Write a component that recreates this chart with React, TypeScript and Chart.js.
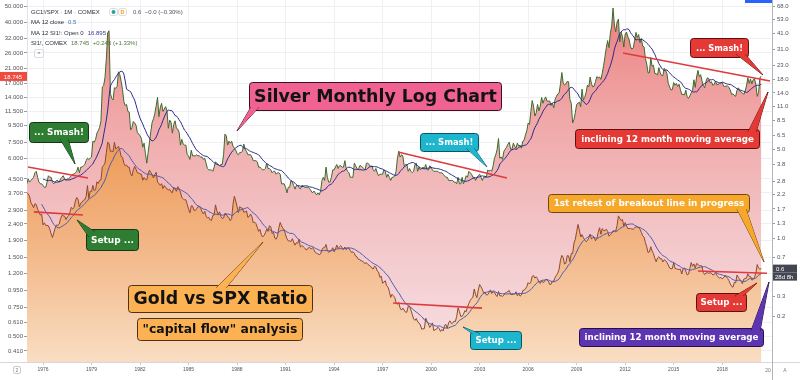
import React, { useEffect, useRef } from 'react';
import { Chart, registerables } from 'chart.js';
Chart.register(...registerables);

// ---- data (monthly closes, Jan 1975 .. Jun 2020) ----
const START_YEAR = 1975;

const SILVER_CLOSE: number[] = [
  4.2, 4.5, 4.3, 4.4, 4.5, 4.6, 4.9, 5.0, 4.6, 4.3, 4.2, 4.2,
  4.1, 4.0, 4.0, 4.3, 4.7, 4.6, 4.6, 4.3, 4.2, 4.3, 4.4, 4.4,
  4.3, 4.5, 4.6, 4.7, 4.5, 4.4, 4.5, 4.5, 4.6, 4.7, 4.8, 4.8,
  4.9, 5.0, 5.3, 4.9, 5.3, 5.3, 5.4, 5.5, 5.8, 6.0, 5.9, 6.0,
  6.1, 7.6, 7.5, 7.8, 8.5, 8.8, 9.2, 10.1, 16.2, 16.5, 18.5, 24.0,
  34.5, 35.4, 14.8, 13.8, 13.5, 16.0, 15.9, 16.3, 20.0, 19.2, 17.5, 15.6,
  13.2, 12.5, 12.7, 11.5, 11.4, 8.9, 9.2, 10.0, 9.8, 9.5, 8.6, 8.4,
  8.2, 7.9, 7.0, 7.4, 6.4, 5.6, 6.5, 7.5, 8.7, 9.9, 10.4, 11.2,
  12.5, 14.0, 10.7, 12.1, 12.9, 11.5, 11.9, 12.3, 11.6, 9.1, 10.2, 9.9,
  8.5, 9.6, 10.1, 9.1, 9.0, 8.6, 7.2, 7.8, 7.3, 7.2, 7.2, 6.3,
  6.2, 5.9, 6.7, 6.2, 6.2, 6.2, 6.3, 6.2, 6.2, 6.1, 6.1, 5.9,
  6.0, 5.6, 5.2, 5.1, 5.1, 5.1, 5.0, 5.3, 5.7, 5.6, 5.5, 5.4,
  5.5, 5.5, 6.3, 8.4, 8.2, 7.2, 7.6, 7.4, 7.6, 7.1, 6.9, 6.7,
  6.4, 6.3, 6.5, 6.5, 6.6, 7.3, 6.8, 6.6, 6.3, 6.3, 6.3, 6.1,
  5.8, 5.8, 5.8, 5.7, 5.3, 5.3, 5.2, 5.1, 5.1, 5.2, 5.6, 5.2,
  5.2, 5.1, 4.9, 5.0, 5.0, 4.8, 4.9, 4.9, 4.8, 4.2, 4.2, 4.2,
  4.0, 3.7, 4.0, 4.0, 4.4, 4.3, 4.1, 3.9, 4.1, 4.1, 4.0, 3.9,
  4.1, 4.1, 4.0, 4.0, 4.0, 4.0, 3.9, 3.8, 3.7, 3.8, 3.7, 3.6,
  3.7, 3.6, 3.8, 4.4, 4.6, 4.4, 5.3, 4.6, 4.3, 4.3, 4.6, 5.1,
  5.1, 5.3, 5.5, 5.2, 5.4, 5.4, 5.3, 5.3, 5.8, 5.2, 5.0, 4.9,
  4.6, 4.6, 4.6, 5.6, 5.4, 5.2, 5.1, 5.4, 5.4, 5.3, 5.2, 5.1,
  5.6, 5.6, 5.5, 5.3, 5.4, 5.1, 5.0, 5.2, 4.9, 4.7, 4.8, 4.8,
  4.8, 5.1, 5.0, 4.6, 4.8, 4.6, 4.4, 4.6, 4.6, 4.7, 5.0, 6.0,
  6.6, 6.1, 6.3, 6.2, 5.4, 5.5, 5.5, 5.0, 5.2, 5.0, 4.9, 5.0,
  5.5, 5.6, 5.0, 5.3, 5.1, 5.2, 5.3, 5.2, 5.5, 5.1, 5.1, 5.4,
  5.3, 5.1, 5.0, 5.0, 5.0, 5.0, 4.9, 4.9, 4.9, 4.8, 4.7, 4.6,
  4.6, 4.4, 4.4, 4.4, 4.4, 4.3, 4.3, 4.2, 4.6, 4.2, 4.2, 4.6,
  4.2, 4.4, 4.7, 4.6, 5.0, 4.9, 4.8, 4.6, 4.6, 4.4, 4.6, 4.7,
  4.8, 4.6, 4.4, 4.6, 4.6, 4.6, 5.1, 5.0, 5.1, 5.0, 5.4, 6.0,
  6.3, 6.8, 7.9, 6.0, 6.1, 5.9, 6.6, 6.8, 7.0, 7.3, 7.5, 6.8,
  6.8, 7.4, 7.1, 6.9, 7.4, 7.1, 7.2, 6.9, 7.6, 7.7, 8.3, 8.8,
  9.8, 9.6, 11.5, 13.4, 12.4, 10.8, 11.3, 12.7, 11.6, 12.4, 14.0, 12.9,
  13.6, 14.1, 13.3, 13.3, 13.3, 12.5, 12.9, 12.1, 13.6, 14.2, 14.7, 14.9,
  16.9, 19.8, 17.1, 16.6, 16.9, 17.5, 17.4, 13.6, 12.9, 9.8, 10.3, 11.3,
  12.7, 12.9, 13.1, 12.3, 15.7, 13.5, 14.0, 15.0, 16.6, 16.2, 18.6, 16.9,
  16.2, 16.4, 17.5, 18.7, 18.4, 18.6, 18.0, 19.6, 21.8, 24.7, 28.0, 30.9,
  28.0, 34.2, 37.9, 48.6, 38.4, 34.9, 40.0, 41.7, 30.3, 34.7, 32.7, 28.2,
  33.8, 34.8, 32.5, 31.2, 28.3, 27.4, 27.9, 31.0, 34.6, 32.3, 33.6, 30.0,
  31.8, 28.6, 28.3, 24.1, 22.3, 19.7, 19.7, 24.4, 21.6, 21.9, 19.5, 19.5,
  19.1, 21.2, 19.7, 19.0, 19.0, 21.0, 20.4, 19.5, 17.0, 16.2, 15.5, 15.6,
  17.2, 16.6, 17.0, 16.3, 16.8, 15.6, 14.6, 14.6, 14.5, 15.5, 14.1, 13.8,
  14.3, 14.9, 15.4, 17.9, 16.1, 18.6, 20.4, 18.7, 19.2, 17.7, 16.5, 16.0,
  17.5, 18.4, 18.2, 17.2, 17.4, 16.6, 16.7, 17.6, 16.7, 16.8, 17.0, 17.1,
  17.3, 16.4, 16.3, 16.4, 16.4, 16.1, 15.5, 14.6, 14.7, 14.4, 14.2, 15.5,
  16.0, 15.3, 15.1, 14.9, 14.6, 15.3, 16.4, 18.4, 17.0, 18.1, 16.9, 17.9,
  18.1, 16.7, 14.2, 15.0, 18.5, 18.745,
];

const GOLD_SPX_CLOSE: number[] = [
  2.29, 2.23, 2.14, 1.91, 1.83, 1.74, 1.87, 1.84, 1.69, 1.61, 1.52, 1.55,
  1.27, 1.32, 1.26, 1.26, 1.25, 1.18, 1.08, 1.01, 1.10, 1.20, 1.27, 1.26,
  1.29, 1.42, 1.51, 1.50, 1.49, 1.40, 1.47, 1.50, 1.60, 1.75, 1.70, 1.74,
  1.96, 2.09, 2.03, 1.76, 1.89, 1.92, 1.99, 2.01, 2.13, 2.60, 2.05, 2.35,
  2.33, 2.61, 2.36, 2.41, 2.78, 2.70, 2.85, 2.88, 3.63, 3.75, 3.91, 4.74,
  5.72, 5.60, 4.84, 4.87, 4.81, 5.72, 5.05, 5.16, 5.31, 4.93, 4.41, 4.35,
  3.91, 3.73, 3.77, 3.63, 3.62, 3.22, 3.10, 3.46, 3.68, 3.50, 3.28, 3.26,
  3.21, 3.20, 2.86, 3.01, 2.90, 2.89, 3.20, 3.44, 3.30, 3.16, 2.98, 3.19,
  3.31, 2.76, 2.71, 2.61, 2.69, 2.46, 2.60, 2.52, 2.44, 2.40, 2.43, 2.32,
  2.28, 2.51, 2.44, 2.34, 2.55, 2.43, 2.31, 2.09, 2.05, 2.00, 2.01, 1.85,
  1.70, 1.58, 1.80, 1.79, 1.66, 1.65, 1.71, 1.77, 1.78, 1.72, 1.61, 1.55,
  1.63, 1.49, 1.44, 1.46, 1.39, 1.38, 1.51, 1.52, 1.83, 1.64, 1.54, 1.61,
  1.48, 1.43, 1.44, 1.57, 1.55, 1.47, 1.45, 1.37, 1.43, 1.85, 2.14, 1.96,
  1.78, 1.59, 1.77, 1.73, 1.72, 1.60, 1.61, 1.64, 1.46, 1.48, 1.55, 1.48,
  1.32, 1.34, 1.30, 1.22, 1.13, 1.17, 1.06, 1.02, 1.05, 1.10, 1.18, 1.13,
  1.25, 1.23, 1.09, 1.11, 1.00, 0.98, 1.04, 1.20, 1.33, 1.25, 1.19, 1.17,
  1.06, 0.99, 0.95, 0.95, 0.94, 0.99, 0.93, 0.88, 0.92, 0.91, 0.98, 0.85,
  0.87, 0.86, 0.84, 0.81, 0.81, 0.84, 0.84, 0.82, 0.84, 0.81, 0.77, 0.76,
  0.75, 0.74, 0.75, 0.81, 0.84, 0.84, 0.89, 0.80, 0.77, 0.79, 0.80, 0.84,
  0.78, 0.82, 0.88, 0.83, 0.85, 0.87, 0.84, 0.81, 0.85, 0.81, 0.84, 0.83,
  0.80, 0.77, 0.78, 0.76, 0.72, 0.71, 0.68, 0.68, 0.66, 0.66, 0.64, 0.63,
  0.64, 0.62, 0.61, 0.60, 0.58, 0.57, 0.60, 0.59, 0.55, 0.54, 0.49, 0.50,
  0.44, 0.45, 0.46, 0.42, 0.41, 0.38, 0.34, 0.36, 0.35, 0.34, 0.31, 0.30,
  0.31, 0.28, 0.27, 0.28, 0.27, 0.26, 0.26, 0.29, 0.29, 0.27, 0.25, 0.23,
  0.224, 0.232, 0.218, 0.214, 0.206, 0.191, 0.192, 0.193, 0.233, 0.220, 0.210, 0.197,
  0.204, 0.214, 0.186, 0.189, 0.191, 0.198, 0.193, 0.183, 0.190, 0.185, 0.205, 0.208,
  0.194, 0.215, 0.222, 0.211, 0.213, 0.221, 0.219, 0.241, 0.281, 0.263, 0.241, 0.241,
  0.250, 0.267, 0.262, 0.286, 0.305, 0.321, 0.333, 0.341, 0.396, 0.357, 0.339, 0.389,
  0.430, 0.413, 0.394, 0.366, 0.375, 0.355, 0.357, 0.372, 0.390, 0.365, 0.376, 0.374,
  0.354, 0.346, 0.379, 0.350, 0.351, 0.346, 0.355, 0.369, 0.372, 0.380, 0.385, 0.361,
  0.357, 0.361, 0.363, 0.377, 0.350, 0.365, 0.348, 0.355, 0.385, 0.389, 0.396, 0.414,
  0.445, 0.434, 0.449, 0.499, 0.506, 0.483, 0.495, 0.478, 0.448, 0.438, 0.461, 0.446,
  0.452, 0.473, 0.467, 0.458, 0.431, 0.432, 0.457, 0.457, 0.487, 0.509, 0.529, 0.568,
  0.670, 0.730, 0.705, 0.624, 0.633, 0.727, 0.724, 0.649, 0.758, 0.754, 0.911, 0.979,
  1.124, 1.281, 1.158, 1.021, 1.065, 1.008, 0.967, 0.936, 0.954, 1.004, 1.076, 0.984,
  1.008, 1.012, 0.952, 0.994, 1.108, 1.207, 1.072, 1.189, 1.145, 1.147, 1.174, 1.130,
  1.036, 1.063, 1.085, 1.141, 1.142, 1.136, 1.260, 1.497, 1.432, 1.376, 1.400, 1.244,
  1.326, 1.253, 1.185, 1.190, 1.191, 1.178, 1.176, 1.199, 1.233, 1.218, 1.210, 1.174,
  1.111, 1.042, 1.017, 0.924, 0.854, 0.768, 0.778, 0.855, 0.789, 0.753, 0.692, 0.650,
  0.696, 0.713, 0.686, 0.688, 0.648, 0.674, 0.664, 0.642, 0.614, 0.580, 0.572, 0.575,
  0.641, 0.576, 0.572, 0.567, 0.565, 0.568, 0.520, 0.574, 0.580, 0.549, 0.512, 0.519,
  0.575, 0.641, 0.599, 0.625, 0.579, 0.630, 0.622, 0.603, 0.607, 0.601, 0.533, 0.515,
  0.532, 0.531, 0.529, 0.532, 0.529, 0.512, 0.514, 0.535, 0.509, 0.494, 0.482, 0.490,
  0.476, 0.486, 0.502, 0.497, 0.481, 0.461, 0.435, 0.416, 0.409, 0.448, 0.443, 0.511,
  0.489, 0.473, 0.456, 0.436, 0.474, 0.480, 0.482, 0.522, 0.499, 0.498, 0.466, 0.471,
  0.491, 0.530, 0.618, 0.579, 0.568, 0.574,
];

const YEAR_TICKS = [1976, 1979, 1982, 1985, 1988, 1991, 1994, 1997, 2000, 2003, 2006, 2009, 2012, 2015, 2018];
const SILVER_TICKS = [50, 40, 32, 26, 21, 17, 14, 11.5, 9.5, 7.5, 6, 4.5, 3.7, 2.9, 2.4, 1.9, 1.5, 1.2, 0.95, 0.75, 0.61, 0.5, 0.41];
const RATIO_TICKS = [68, 53, 41, 31, 23, 18, 14, 11, 8.5, 6.5, 5, 3.8, 2.8, 2.2, 1.7, 1.3, 1.0, 0.7, 0.345, 0.24];

// trend lines: [t0, v0, t1, v1]
const SILVER_TRENDS = [
  [1975.07, 5.31, 1978.78, 4.55],
  [1997.95, 6.54, 2004.69, 4.55],
  [2011.87, 26.0, 2020.96, 17.6],
];
const RATIO_TRENDS = [
  [1975.44, 1.61, 1978.47, 1.52],
  [1997.65, 0.307, 2003.15, 0.28],
  [2016.5, 0.549, 2020.77, 0.527],
];

const SILVER_LAST = '18.745';
const LEGEND_NAMES = ['GC1!/SPX · 1M · COMEX', 'MA 12 close', 'MA 12 SI1!: Open 0', 'SI1!, COMEX'];
const LEGEND_VALUES = ['0.6  −0.0 (−0.30%)', '0.5', '16.895', '18.745  +0.245 (+1.33%)'];
const LEGEND_VALUE_COLORS = ['#50535e', '#3f6fb5', '#3c3596', '#4d7a3c'];

type Callout = { x: number; y: number; w: number; h: number; text: string; tw: number; max: number; fill: string; stroke: string; color: string; ptr?: number[][] };
const CALLOUTS: Callout[] = [
  { x: 249, y: 82, w: 252, h: 28, text: 'Silver Monthly Log Chart', tw: 243, max: 20, fill: '#f06292', stroke: '#3d0f1f', color: '#121212', ptr: [[251, 107], [259, 107], [237, 131]] },
  { x: 29, y: 122, w: 59, h: 20, text: '... Smash!', tw: 50, max: 10, fill: '#2e7d32', stroke: '#12361a', color: '#ffffff', ptr: [[60, 139], [68, 139], [75, 164]] },
  { x: 86, y: 229, w: 52, h: 21, text: 'Setup ...', tw: 43, max: 10, fill: '#2e7d32', stroke: '#12361a', color: '#ffffff', ptr: [[89, 237], [95, 232], [77, 220]] },
  { x: 128, y: 285, w: 184, h: 27, text: 'Gold vs SPX Ratio', tw: 174, max: 22, fill: '#fcb252', stroke: '#4d3210', color: '#121212', ptr: [[216, 288], [226, 288], [263, 242]] },
  { x: 137, y: 318, w: 165, h: 22, text: '"capital flow" analysis', tw: 155, max: 14, fill: '#fcb252', stroke: '#4d3210', color: '#121212' },
  { x: 420, y: 133, w: 58, h: 18, text: '... Smash!', tw: 48, max: 10, fill: '#1eb6cf', stroke: '#0a5561', color: '#ffffff', ptr: [[466, 148], [474, 148], [487, 167]] },
  { x: 470, y: 331, w: 51, h: 18, text: 'Setup ...', tw: 41, max: 10, fill: '#1eb6cf', stroke: '#0a5561', color: '#ffffff', ptr: [[473, 334], [480, 334], [463, 327]] },
  { x: 690, y: 38, w: 58, h: 19, text: '... Smash!', tw: 47, max: 10, fill: '#e53935', stroke: '#5e1010', color: '#ffffff', ptr: [[736, 54], [745, 54], [763, 75]] },
  { x: 575, y: 129, w: 184, h: 19, text: 'inclining 12 month moving average', tw: 173, max: 10, fill: '#e53935', stroke: '#5e1010', color: '#ffffff', ptr: [[748, 132], [756, 132], [768, 92]] },
  { x: 548, y: 194, w: 201, h: 18, text: '1st retest of breakout line in progress', tw: 191, max: 10, fill: '#f7a82a', stroke: '#6b4a0f', color: '#ffffff', ptr: [[737, 209], [746, 209], [764, 262]] },
  { x: 696, y: 293, w: 50, h: 18, text: 'Setup ...', tw: 42, max: 10, fill: '#e53935', stroke: '#5e1010', color: '#ffffff', ptr: [[735, 296], [743, 296], [757, 283]] },
  { x: 579, y: 328, w: 184, h: 18, text: 'inclining 12 month moving average', tw: 174, max: 10, fill: '#5e35b1', stroke: '#22104a', color: '#ffffff', ptr: [[751, 331], [760, 331], [769, 282]] },
];

function toPoints(values: number[], from = 0) {
  const pts: { x: number; y: number }[] = [];
  for (let i = from; i < values.length; i++) pts.push({ x: START_YEAR + i / 12, y: values[i] });
  return pts;
}
// 12-period simple moving average; shift=1 averages the previous 12 closes (≈ opens)
function movingAverage(values: number[], n: number, shift: number) {
  const pts: { x: number; y: number }[] = [];
  for (let i = n - 1 + shift; i < values.length; i++) {
    let s = 0;
    for (let k = i - shift - n + 1; k <= i - shift; k++) s += values[k];
    pts.push({ x: START_YEAR + i / 12, y: s / n });
  }
  return pts;
}

function rr(ctx: CanvasRenderingContext2D, x: number, y: number, w: number, h: number, r: number) {
  ctx.beginPath();
  ctx.moveTo(x + r, y);
  ctx.lineTo(x + w - r, y);
  ctx.quadraticCurveTo(x + w, y, x + w, y + r);
  ctx.lineTo(x + w, y + h - r);
  ctx.quadraticCurveTo(x + w, y + h, x + w - r, y + h);
  ctx.lineTo(x + r, y + h);
  ctx.quadraticCurveTo(x, y + h, x, y + h - r);
  ctx.lineTo(x, y + r);
  ctx.quadraticCurveTo(x, y, x + r, y);
  ctx.closePath();
}

const FONT_BOLD = '"DejaVu Sans", Verdana, sans-serif';
const FONT_UI = '"Liberation Sans", Arial, sans-serif';

function drawCallout(ctx: CanvasRenderingContext2D, c: Callout) {
  ctx.save();
  ctx.lineWidth = 1;
  ctx.fillStyle = c.fill;
  ctx.strokeStyle = c.stroke;
  rr(ctx, c.x + 0.5, c.y + 0.5, c.w, c.h, 3);
  ctx.fill();
  ctx.stroke();
  if (c.ptr) {
    const [b1, b2, t] = c.ptr;
    ctx.beginPath();
    ctx.moveTo(b1[0], b1[1]);
    ctx.lineTo(t[0], t[1]);
    ctx.lineTo(b2[0], b2[1]);
    ctx.stroke();
    ctx.beginPath();
    ctx.moveTo(b1[0], b1[1]);
    ctx.lineTo(t[0], t[1]);
    ctx.lineTo(b2[0], b2[1]);
    ctx.closePath();
    ctx.fill();
  }
  ctx.font = `bold 10px ${FONT_BOLD}`;
  const w10 = ctx.measureText(c.text).width;
  const size = Math.min(c.max, (10 * c.tw) / w10);
  ctx.font = `bold ${size.toFixed(2)}px ${FONT_BOLD}`;
  ctx.fillStyle = c.color;
  ctx.textAlign = 'center';
  ctx.textBaseline = 'middle';
  ctx.fillText(c.text, c.x + c.w / 2 + 0.5, c.y + c.h / 2 + 1);
  ctx.restore();
}

const overlay = {
  id: 'overlay',
  afterDatasetsDraw(chart: any) {
    const ctx: CanvasRenderingContext2D = chart.ctx;
    const xs = chart.scales.x;
    ctx.save();
    ctx.strokeStyle = '#e0393e';
    ctx.lineWidth = 1.6;
    const draw = (list: number[][], sc: any) => {
      list.forEach(([t0, v0, t1, v1]) => {
        ctx.beginPath();
        ctx.moveTo(xs.getPixelForValue(t0), sc.getPixelForValue(v0));
        ctx.lineTo(xs.getPixelForValue(t1), sc.getPixelForValue(v1));
        ctx.stroke();
      });
    };
    draw(SILVER_TRENDS, chart.scales.y);
    draw(RATIO_TRENDS, chart.scales.y2);
    ctx.restore();
  },
  afterDraw(chart: any) {
    const ctx: CanvasRenderingContext2D = chart.ctx;
    const area = chart.chartArea;
    ctx.save();
    // frame lines
    ctx.strokeStyle = '#d6d8de';
    ctx.lineWidth = 1;
    ctx.beginPath();
    ctx.moveTo(0, area.bottom + 0.5);
    ctx.lineTo(800, area.bottom + 0.5);
    ctx.stroke();
    ctx.strokeStyle = '#b2b5be';
    ctx.beginPath();
    ctx.moveTo(area.right + 0.5, area.bottom);
    ctx.lineTo(area.right + 0.5, 380);
    ctx.stroke();
    // top right blue bar
    ctx.fillStyle = '#2962ff';
    ctx.fillRect(745, 0, 27, 3);

    CALLOUTS.forEach((c) => drawCallout(ctx, c));

    // legend
    ctx.font = `6px ${FONT_UI}`;
    ctx.textAlign = 'left';
    ctx.textBaseline = 'middle';
    const ys = [12, 22, 33, 43];
    LEGEND_NAMES.forEach((name, i) => {
      ctx.fillStyle = '#2a2e39';
      ctx.fillText(name, 31, ys[i]);
      const end = 31 + ctx.measureText(name).width;
      const vx = i === 0 ? 133 : end + 4;
      ctx.fillStyle = LEGEND_VALUE_COLORS[i];
      ctx.fillText(LEGEND_VALUES[i], vx, ys[i]);
    });
    // legend icons
    ctx.strokeStyle = '#d0d3da';
    ctx.lineWidth = 0.8;
    rr(ctx, 109.5, 8.5, 8, 7, 2);
    ctx.stroke();
    ctx.fillStyle = '#26a69a';
    ctx.beginPath();
    ctx.arc(113.5, 12, 2, 0, Math.PI * 2);
    ctx.fill();
    rr(ctx, 118.5, 8.5, 8, 7, 2);
    ctx.stroke();
    ctx.fillStyle = '#ff9800';
    ctx.font = `bold 5.5px ${FONT_UI}`;
    ctx.textAlign = 'center';
    ctx.fillText('D', 122.5, 12.2);
    rr(ctx, 34.5, 49.5, 9, 8, 1.5);
    ctx.stroke();
    ctx.fillStyle = '#555';
    ctx.font = `6px ${FONT_UI}`;
    ctx.fillText('^', 39, 54.5);

    // price labels
    const ySil = chart.scales.y.getPixelForValue(SILVER_CLOSE[SILVER_CLOSE.length - 1]);
    ctx.fillStyle = '#ef4a3f';
    ctx.fillRect(0, ySil - 4.5, 27, 9);
    ctx.fillStyle = '#ffffff';
    ctx.font = `6px ${FONT_UI}`;
    ctx.textAlign = 'center';
    ctx.fillText(SILVER_LAST, 13, ySil + 0.5);
    const lastRatio = GOLD_SPX_CLOSE[GOLD_SPX_CLOSE.length - 1];
    const yR = chart.scales.y2.getPixelForValue(lastRatio);
    ctx.fillStyle = '#434651';
    ctx.fillRect(773, yR - 4, 24, 8);
    ctx.fillRect(773, yR + 4, 24, 8);
    ctx.fillStyle = '#ffffff';
    ctx.textAlign = 'left';
    ctx.fillText(lastRatio.toFixed(1), 776, yR + 0.5);
    ctx.fillText('28d 8h', 775, yR + 8.5);

    // bottom bar
    ctx.strokeStyle = '#b8bbc4';
    ctx.lineWidth = 0.8;
    rr(ctx, 13.5, 366.5, 7, 7, 1.5);
    ctx.stroke();
    ctx.fillStyle = '#787b86';
    ctx.font = `5px ${FONT_UI}`;
    ctx.textAlign = 'center';
    ctx.fillText('2', 17, 370.5);
    ctx.fillText('20', 768, 370.5);
    ctx.fillText('A', 785, 370.5);
    ctx.restore();
  },
};

export default function App() {
  const ref = useRef<HTMLCanvasElement | null>(null);
  useEffect(() => {
    document.body.style.margin = '0';
    const canvas = ref.current;
    if (!canvas) return;

    const pinkFill = (c: any) => {
      const a = c.chart.chartArea;
      if (!a) return '#f2b0b0';
      const g = c.chart.ctx.createLinearGradient(0, a.top, 0, a.bottom);
      g.addColorStop(0, '#eb7d7d');
      g.addColorStop(0.3, '#f0a5a5');
      g.addColorStop(0.65, '#f3c6c9');
      g.addColorStop(1, '#f7e1e4');
      return g;
    };
    const orangeFill = (c: any) => {
      const a = c.chart.chartArea;
      if (!a) return '#f2b27e';
      const g = c.chart.ctx.createLinearGradient(0, a.top, 0, a.bottom);
      g.addColorStop(0, '#ea8a40');
      g.addColorStop(0.39, '#ee9b57');
      g.addColorStop(0.66, '#f2b483');
      g.addColorStop(1, '#f9ddc2');
      return g;
    };

    const fitW = (w: number) => (s: any) => {
      s.width = w;
      s.paddingTop = 0; s.paddingBottom = 0; s.paddingLeft = 0; s.paddingRight = 0;
    };

    const chart = new Chart(canvas, {
      type: 'line',
      data: {
        datasets: [
          { label: 'SI1!', data: toPoints(SILVER_CLOSE), yAxisID: 'y', borderColor: '#3d6a2c', borderWidth: 1, fill: 'start', backgroundColor: pinkFill, order: 5, pointRadius: 0 },
          { label: 'MA 12 SI1!', data: movingAverage(SILVER_CLOSE, 12, 1), yAxisID: 'y', borderColor: '#2b2a8c', borderWidth: 1, fill: false, order: 4, pointRadius: 0 },
          { label: 'GC1!/SPX', data: toPoints(GOLD_SPX_CLOSE), yAxisID: 'y2', borderColor: '#8c4a2f', borderWidth: 1, fill: 'start', backgroundColor: orangeFill, order: 3, pointRadius: 0 },
          { label: 'MA 12 close', data: movingAverage(GOLD_SPX_CLOSE, 12, 0), yAxisID: 'y2', borderColor: '#4a5bb0', borderWidth: 1, fill: false, order: 2, pointRadius: 0 },
        ],
      },
      options: {
        animation: false,
        responsive: false,
        maintainAspectRatio: false,
        devicePixelRatio: 1,
        layout: { padding: 0, autoPadding: false },
        events: [],
        plugins: { legend: { display: false }, tooltip: { enabled: false } },
        elements: { point: { radius: 0 }, line: { tension: 0 } },
        scales: {
          x: {
            type: 'linear',
            min: 1975.01,
            max: 2021.08,
            afterFit: (s: any) => { s.height = 18; s.paddingLeft = 0; s.paddingRight = 0; s.paddingTop = 0; s.paddingBottom = 0; },
            afterBuildTicks: (s: any) => { s.ticks = YEAR_TICKS.map((v) => ({ value: v })); },
            ticks: { autoSkip: false, maxRotation: 0, minRotation: 0, padding: 2, color: '#50535e', font: { size: 5, family: FONT_UI }, callback: (v: any) => String(v) },
            grid: { color: '#eef0f4', tickColor: '#c8cad0', tickLength: 3, lineWidth: 1 },
            border: { display: true, color: '#d6d8de' },
          },
          y: {
            type: 'logarithmic',
            position: 'left',
            min: 0.351,
            max: 54.36,
            afterFit: fitW(27),
            afterBuildTicks: (s: any) => { s.ticks = SILVER_TICKS.map((v) => ({ value: v })); },
            ticks: { autoSkip: false, padding: 1, color: '#50535e', font: { size: 6, family: FONT_UI }, callback: (v: any) => Number(v).toFixed(3) },
            grid: { color: '#eef0f4', tickColor: '#9a9ca3', tickLength: 3 },
            border: { display: true, color: '#e0e3eb' },
          },
          y2: {
            type: 'logarithmic',
            position: 'right',
            min: 0.1051,
            max: 75.84,
            afterFit: fitW(28),
            afterBuildTicks: (s: any) => { s.ticks = RATIO_TICKS.map((v) => ({ value: v })); },
            ticks: { autoSkip: false, padding: 2, color: '#50535e', font: { size: 6, family: FONT_UI }, callback: (v: any) => Number(v).toFixed(1) },
            grid: { drawOnChartArea: false, tickColor: '#9a9ca3', tickLength: 3 },
            border: { display: true, color: '#b2b5be' },
          },
        },
      },
      plugins: [overlay],
    } as any);
    return () => chart.destroy();
  }, []);

  return (
    <div style={{ position: 'absolute', left: 0, top: 0, width: 800, height: 380, background: '#ffffff' }}>
      <canvas ref={ref} width={800} height={380} style={{ display: 'block', width: 800, height: 380 }} />
    </div>
  );
}
